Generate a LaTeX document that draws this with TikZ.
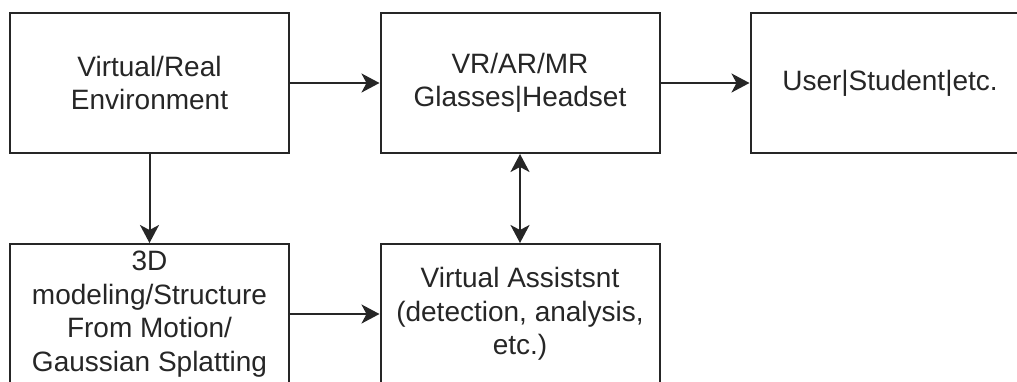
\documentclass[tikz,border=0pt]{standalone}
\usepackage{fontspec}
\setmainfont{Liberation Sans}
\usetikzlibrary{arrows.meta}
\begin{document}
\begin{tikzpicture}[x=1pt,y=-1pt,
  tip/.tip={Stealth[length=18pt,width=19pt,inset=5pt]},
  box/.style={draw=black!85, line width=2pt, minimum width=279pt, minimum height=140pt,
    inner sep=0pt, align=center, text=black!85, font=\fontsize{28}{33.5}\selectfont},
  arr/.style={draw=black!85, line width=2pt, -tip},
  darr/.style={draw=black!85, line width=2pt, tip-tip}]
\useasboundingbox (0,0) rectangle (1017,381);
\clip (0,0) rectangle (1017,381);
\fill[white] (0,0) rectangle (1017,381);
\node[box] (env) at (149.5,83) {Virtual/Real\\Environment};
\node[box] (glass) at (520,83) {VR/AR/MR\\Glasses|Headset};
\node[box] (user) at (890,83) {User|Student|etc.};
\node[box] (model) at (149.5,314) {3D\\modeling/Structure\\From Motion/\\Gaussian Splatting};
\node[box] (assist) at (520,314) {Virtual Assistsnt\\(detection, analysis,\\etc.)};
\draw[arr] (env) -- (glass);
\draw[arr] (glass) -- (user);
\draw[arr] (env) -- (model);
\draw[arr] (model) -- (assist);
\draw[darr] (glass) -- (assist);
\end{tikzpicture}
\end{document}
